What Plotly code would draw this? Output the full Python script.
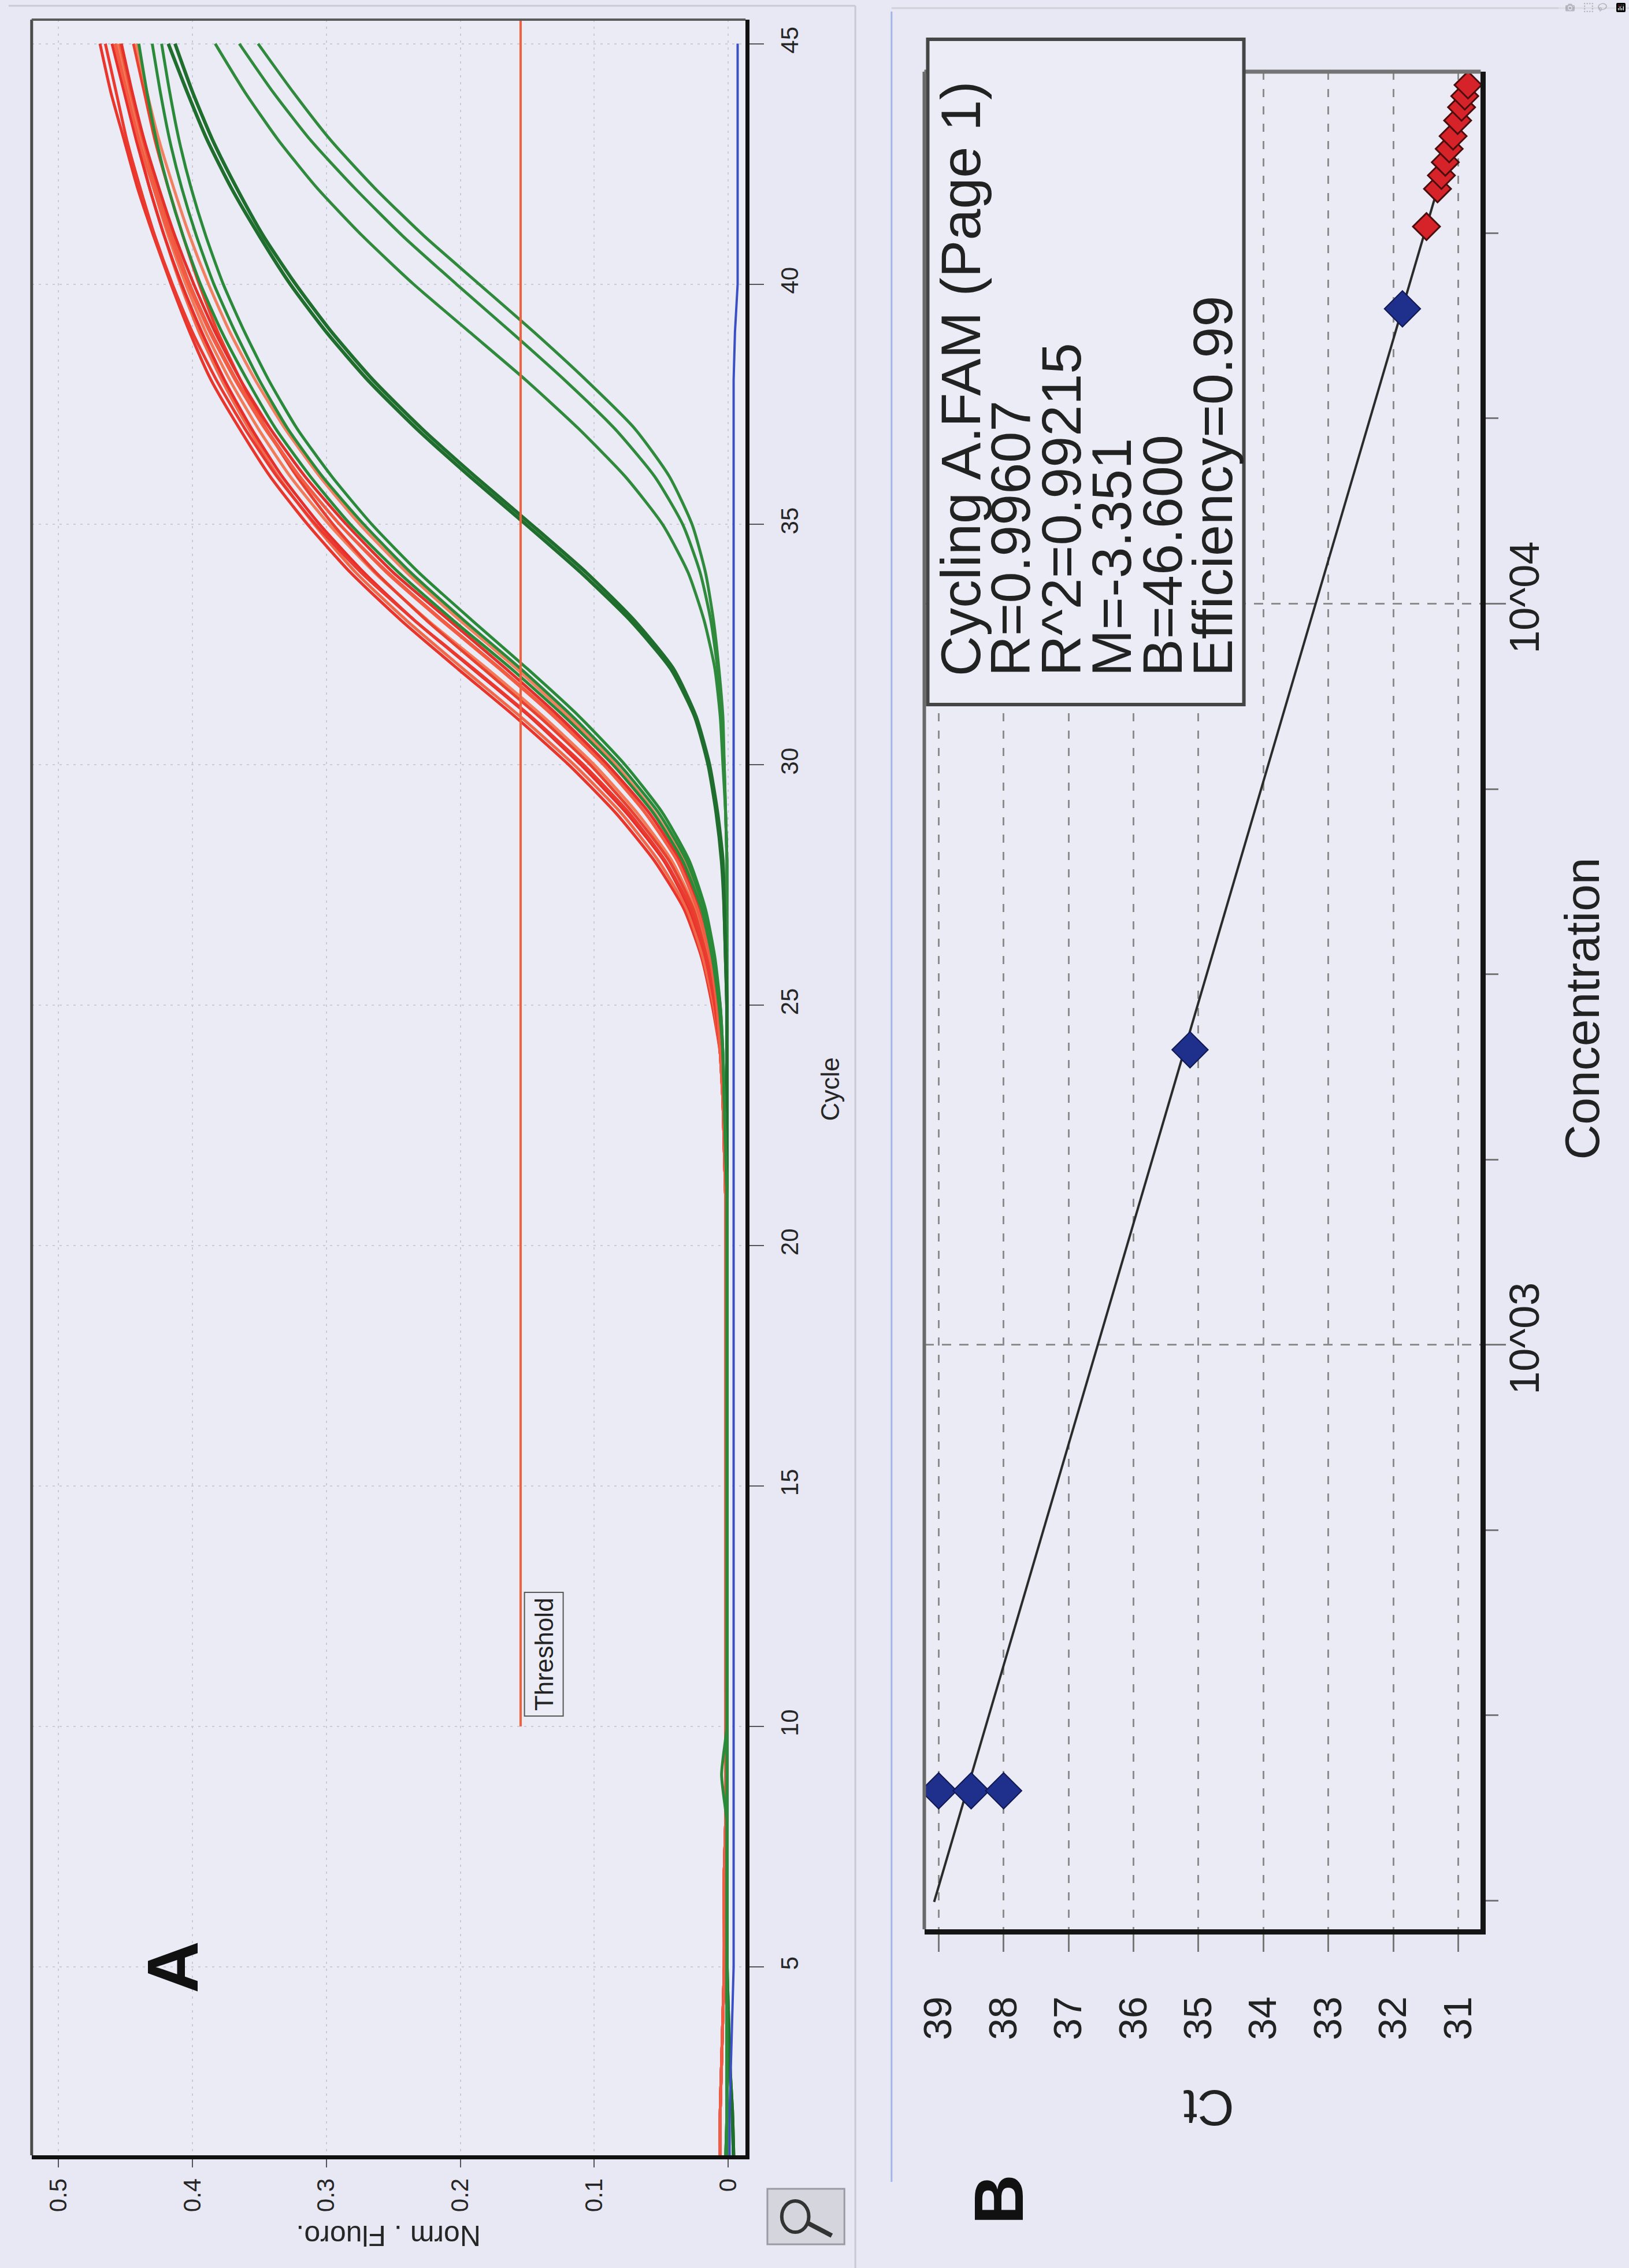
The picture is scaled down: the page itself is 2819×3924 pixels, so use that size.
import plotly.graph_objects as go

W, H = 2819, 3924

# ---------------- Panel A data (Norm. Fluoro. vs Cycle) ----------------
cycles = list(range(1, 46))

red_base = [0.006, 0.006, 0.005, 0.004, 0.003, 0.003, 0.003, 0.002, 0.002, 0.002,
            0.002, 0.002, 0.002, 0.002, 0.002, 0.002, 0.002, 0.002, 0.002, 0.002,
            0.002, 0.003, 0.004, 0.006]  # cycles 1-24

red_1 = red_base + [0.012, 0.020, 0.033, 0.055, 0.084, 0.119, 0.159, 0.202, 0.244, 0.282, 0.314,
                    0.342, 0.365, 0.386, 0.402, 0.416, 0.429, 0.441, 0.451, 0.461, 0.469]
red_2 = red_base + [0.011, 0.019, 0.031, 0.052, 0.080, 0.115, 0.155, 0.198, 0.240, 0.278, 0.309,
                    0.336, 0.358, 0.378, 0.395, 0.409, 0.421, 0.432, 0.441, 0.449, 0.457]
red_3 = red_base + [0.010, 0.017, 0.029, 0.048, 0.076, 0.110, 0.148, 0.191, 0.234, 0.272, 0.305,
                    0.333, 0.356, 0.376, 0.393, 0.408, 0.421, 0.432, 0.442, 0.451, 0.460]
red_4 = red_base + [0.009, 0.015, 0.025, 0.042, 0.068, 0.100, 0.138, 0.180, 0.224, 0.264, 0.298,
                    0.327, 0.351, 0.372, 0.390, 0.405, 0.418, 0.429, 0.439, 0.447, 0.455]
red_5 = red_base + [0.009, 0.016, 0.026, 0.044, 0.071, 0.103, 0.141, 0.183, 0.225, 0.263, 0.295,
                    0.322, 0.345, 0.364, 0.381, 0.395, 0.407, 0.418, 0.428, 0.436, 0.444]
red_6 = red_base + [0.0085, 0.0135, 0.023, 0.038, 0.062, 0.092, 0.129, 0.170, 0.213, 0.254, 0.290,
                    0.320, 0.345, 0.367, 0.386, 0.402, 0.415, 0.427, 0.437, 0.446, 0.454]
red_7 = red_base + [0.008, 0.013, 0.022, 0.036, 0.059, 0.090, 0.126, 0.166, 0.208, 0.250, 0.285,
                    0.316, 0.342, 0.364, 0.383, 0.399, 0.413, 0.425, 0.436, 0.445, 0.453]
red_8 = red_base + [0.0075, 0.012, 0.020, 0.033, 0.055, 0.084, 0.119, 0.158, 0.200, 0.240, 0.275,
                    0.305, 0.331, 0.353, 0.372, 0.388, 0.402, 0.414, 0.425, 0.434, 0.442]
red_9 = red_base + [0.010, 0.017, 0.028, 0.047, 0.074, 0.108, 0.147, 0.190, 0.234, 0.274, 0.308,
                    0.337, 0.361, 0.382, 0.400, 0.415, 0.428, 0.439, 0.449, 0.457, 0.465]
red_10 = red_base + [0.0085, 0.0135, 0.023, 0.038, 0.062, 0.093, 0.130, 0.171, 0.214, 0.255, 0.290,
                     0.320, 0.346, 0.368, 0.387, 0.403, 0.417, 0.429, 0.440, 0.449, 0.458]
red_curves = [red_1, red_2, red_3, red_4, red_5, red_6, red_7, red_8, red_9, red_10]
red_colors = ["#e8362c", "#f0684a", "#e62f2a", "#f27a58", "#e9412f", "#ee5a3e",
              "#e3302b", "#f08060", "#ea3a30", "#f25c44"]

green_base = [0.002, 0.001, 0.001, 0.001, 0.001, 0.001, 0.001, 0.001, 0.001, 0.001,
              0.001, 0.001, 0.001, 0.001, 0.001, 0.001, 0.001, 0.001, 0.001, 0.001,
              0.001, 0.002, 0.003, 0.004]  # cycles 1-24
green_spike_base = [0.002, 0.001, 0.001, 0.001, 0.001, 0.001, 0.001, 0.001, 0.005, 0.001,
                    0.001, 0.001, 0.001, 0.001, 0.001, 0.001, 0.001, 0.001, 0.001, 0.001,
                    0.001, 0.002, 0.003, 0.004]
std_25000_a = green_base + [0.007, 0.012, 0.020, 0.034, 0.056, 0.086, 0.122, 0.162, 0.205, 0.246, 0.282,
                            0.312, 0.338, 0.359, 0.378, 0.394, 0.407, 0.418, 0.427, 0.434, 0.440]
std_25000_b = green_spike_base + [0.006, 0.010, 0.017, 0.029, 0.049, 0.077, 0.111, 0.150, 0.191, 0.231, 0.266,
                                  0.296, 0.322, 0.343, 0.361, 0.377, 0.390, 0.401, 0.410, 0.417, 0.423]
std_25000_c = green_base + [0.006, 0.011, 0.018, 0.031, 0.052, 0.081, 0.116, 0.155, 0.197, 0.237, 0.272,
                            0.303, 0.329, 0.350, 0.368, 0.384, 0.397, 0.408, 0.417, 0.424, 0.430]

late_base = [-0.004, -0.003, -0.001, 0.000, 0.001, 0.001, 0.001, 0.001, 0.001, 0.001,
             0.001, 0.001, 0.001, 0.001, 0.001, 0.001, 0.001, 0.001, 0.001, 0.001,
             0.001, 0.001, 0.001, 0.001, 0.001, 0.002, 0.003]  # cycles 1-27
std_2500_a = late_base + [0.005, 0.009, 0.015, 0.025, 0.043, 0.073, 0.110, 0.151, 0.193,
                          0.233, 0.269, 0.300, 0.327, 0.350, 0.371, 0.389, 0.404, 0.418]
std_2500_b = late_base + [0.004, 0.008, 0.014, 0.024, 0.041, 0.070, 0.106, 0.147, 0.189,
                          0.229, 0.265, 0.296, 0.323, 0.347, 0.367, 0.385, 0.400, 0.413]

very_late_base = [0.001, 0.001, 0.001, 0.001, 0.001, 0.001, 0.001, 0.001, 0.001, 0.001,
                  0.001, 0.001, 0.001, 0.001, 0.001, 0.001, 0.001, 0.001, 0.001, 0.001,
                  0.001, 0.001, 0.001, 0.001, 0.001, 0.001, 0.001, 0.001, 0.002]  # cycles 1-29
std_250_a = very_late_base + [0.004, 0.006, 0.010, 0.018, 0.030, 0.049, 0.077, 0.112, 0.151,
                              0.193, 0.235, 0.273, 0.307, 0.336, 0.361, 0.383]
std_250_b = very_late_base + [0.003, 0.005, 0.008, 0.013, 0.021, 0.034, 0.055, 0.085, 0.122,
                              0.162, 0.203, 0.243, 0.279, 0.312, 0.340, 0.365]
std_250_c = very_late_base + [0.003, 0.004, 0.007, 0.011, 0.017, 0.027, 0.044, 0.070, 0.106,
                              0.145, 0.186, 0.227, 0.264, 0.297, 0.325, 0.351]

ntc_blue = [-0.001, -0.001, -0.002, -0.003, -0.004, -0.004, -0.004, -0.004, -0.004, -0.004,
            -0.004, -0.004, -0.004, -0.004, -0.004, -0.004, -0.004, -0.004, -0.004, -0.004,
            -0.004, -0.004, -0.004, -0.004, -0.004, -0.004, -0.004, -0.004, -0.004, -0.004,
            -0.004, -0.004, -0.004, -0.004, -0.004, -0.004, -0.004, -0.004, -0.005, -0.007,
            -0.007, -0.007, -0.007, -0.007, -0.007]

threshold_value = 0.155
threshold_cycles = [10, 45.5]

fluoro_ticks = [0, 0.1, 0.2, 0.3, 0.4, 0.5]
fluoro_ticktext = ["0", "0.1", "0.2", "0.3", "0.4", "0.5"]
cycle_ticks = [5, 10, 15, 20, 25, 30, 35, 40, 45]

# ---------------- Panel B data (standard curve) ----------------
std_ct = [39.0, 38.5, 38.0, 35.13, 31.86]
std_conc = [250, 250, 250, 2500, 25000]
unk_ct = [31.49, 31.32, 31.26, 31.20, 31.14, 31.08, 31.01, 30.95, 30.90, 30.85]
unk_conc = [32280, 36300, 37840, 39430, 41100, 42760, 44890, 46770, 48420, 50120]
fit_ct = [39.07, 30.85]
fit_conc = [177, 50120]
ct_ticks = [31, 32, 33, 34, 35, 36, 37, 38, 39]
conc_ticks = [1000, 10000]
conc_ticktext = ["10^03", "10^04"]
conc_minor = [177.8, 316.2, 562.3, 1778, 3162, 5623, 17783, 31623]
legend_lines = ["Cycling A.FAM (Page 1)", "R=0.99607", "R^2=0.99215",
                "M=-3.351", "B=46.600", "Efficiency=0.99"]

# ---------------- helpers (pixel -> paper) ----------------
def px(x):
    return x / W

def py(y):
    return 1 - y / H

BG = "#e8e8f4"
NARROW = "Liberation Sans Narrow, Arial Narrow, Liberation Sans, Arial, sans-serif"
SANS = "Liberation Sans, Arial, sans-serif"

fig = go.Figure()

# Panel A traces
for vals in [std_250_a, std_250_b, std_250_c]:
    fig.add_trace(go.Scatter(x=vals, y=cycles, mode="lines", xaxis="x", yaxis="y",
                             line=dict(color="#2f8a3c", width=5, shape="spline", smoothing=0.6),
                             hoverinfo="skip"))
for vals in [std_2500_a, std_2500_b]:
    fig.add_trace(go.Scatter(x=vals, y=cycles, mode="lines", xaxis="x", yaxis="y",
                             line=dict(color="#1f6e2d", width=6, shape="spline", smoothing=0.6),
                             hoverinfo="skip"))
fig.add_trace(go.Scatter(x=ntc_blue, y=cycles, mode="lines", xaxis="x", yaxis="y",
                         line=dict(color="#3a4fc4", width=4), hoverinfo="skip"))
for vals, col in zip(red_curves, red_colors):
    fig.add_trace(go.Scatter(x=vals, y=cycles, mode="lines", xaxis="x", yaxis="y",
                             line=dict(color=col, width=5, shape="spline", smoothing=0.6),
                             hoverinfo="skip"))
for vals in [std_25000_a, std_25000_b, std_25000_c]:
    fig.add_trace(go.Scatter(x=vals, y=cycles, mode="lines", xaxis="x", yaxis="y",
                             line=dict(color="#2a8a3a", width=5, shape="spline", smoothing=0.6),
                             hoverinfo="skip"))
fig.add_trace(go.Scatter(x=[threshold_value, threshold_value], y=threshold_cycles, mode="lines",
                         xaxis="x", yaxis="y", line=dict(color="#f0603c", width=4),
                         hoverinfo="skip"))

# Panel B traces
fig.add_trace(go.Scatter(x=fit_ct, y=fit_conc, mode="lines", xaxis="x2", yaxis="y2",
                         line=dict(color="#2b2b2b", width=4), hoverinfo="skip"))
fig.add_trace(go.Scatter(x=std_ct, y=std_conc, mode="markers", xaxis="x2", yaxis="y2",
                         marker=dict(symbol="diamond", size=48, color="#1f2f8c",
                                     line=dict(color="#0f1850", width=2)),
                         hoverinfo="skip"))
fig.add_trace(go.Scatter(x=unk_ct, y=unk_conc, mode="markers", xaxis="x2", yaxis="y2",
                         marker=dict(symbol="diamond", size=36, color="#d6232a",
                                     line=dict(color="#4a0e0e", width=3)),
                         hoverinfo="skip"))

# ---------------- layout ----------------
tickfontA = dict(family=NARROW, size=42, color="#262626")
tickfontB = dict(family=SANS, size=68, color="#222222")

shapes = [
    # page frame lines
    dict(type="line", xref="paper", yref="paper", x0=px(0), x1=px(1473), y0=py(10), y1=py(10),
         line=dict(color="#c9c9d2", width=3)),
    dict(type="line", xref="paper", yref="paper", x0=px(1473), x1=px(1473), y0=py(10), y1=py(3924),
         line=dict(color="#c9c9d2", width=3)),
    dict(type="line", xref="paper", yref="paper", x0=px(1536), x1=px(2819), y0=py(14), y1=py(14),
         line=dict(color="#cfcfd8", width=3)),
    dict(type="line", xref="paper", yref="paper", x0=px(1536), x1=px(1536), y0=py(20), y1=py(3775),
         line=dict(color="#a4b4e8", width=3)),
    # panel A gray top/left borders
    dict(type="line", xref="x domain", yref="y domain", x0=0, x1=0, y0=0, y1=1,
         line=dict(color="#4a4a4a", width=5)),
    dict(type="line", xref="x domain", yref="y domain", x0=0, x1=1, y0=1, y1=1,
         line=dict(color="#5a5a5a", width=4)),
    # panel B gray top/left borders
    dict(type="line", xref="x2 domain", yref="y2 domain", x0=0, x1=0, y0=0, y1=1,
         line=dict(color="#6a6a6a", width=6)),
    dict(type="line", xref="x2 domain", yref="y2 domain", x0=0, x1=1, y0=1, y1=1,
         line=dict(color="#747474", width=7)),
    # legend box of panel B
    dict(type="rect", xref="paper", yref="paper", x0=px(1599), x1=px(2149), y0=py(1219), y1=py(68),
         fillcolor="#ececf6", line=dict(color="#454545", width=6), layer="above"),
    # small toolbar icon
    dict(type="rect", xref="paper", yref="paper", x0=px(1320), x1=px(1454), y0=py(3883), y1=py(3787),
         fillcolor="#d5d5de", line=dict(color="#9a9aa3", width=3)),
    dict(type="circle", xref="paper", yref="paper", x0=px(1345), x1=px(1392), y0=py(3862), y1=py(3808),
         line=dict(color="#333333", width=6)),
    dict(type="line", xref="paper", yref="paper", x0=px(1388), x1=px(1432), y0=py(3845), y1=py(3868),
         line=dict(color="#333333", width=8)),
]

def ann(text, x, y, angle, font, **kw):
    d = dict(text=text, x=px(x), y=py(y), xref="paper", yref="paper", showarrow=False,
             textangle=angle, xanchor="center", yanchor="middle", font=font)
    d.update(kw)
    return d

annotations = [
    ann("<b>A</b>", 285, 3403, -90, dict(family=SANS, size=125, color="#111111")),
    ann("<b>B</b>", 1722, 3805, -90, dict(family=SANS, size=120, color="#111111")),
    ann("Norm . Fluoro.", 660, 3868, 180, dict(family=SANS, size=50, color="#262626")),
    ann("Cycle", 1430, 1884, -90, dict(family=NARROW, size=44, color="#262626")),
    ann("Ct", 2088, 3648, 180, dict(family=SANS, size=88, color="#222222")),
    ann("Concentration", 2738, 1745, -90, dict(family=SANS, size=84, color="#222222")),
    dict(text="Threshold", x=0.1378, y=11.5, xref="x", yref="y", showarrow=False,
         textangle=-90, font=dict(family=NARROW, size=44, color="#222222"),
         bordercolor="#555555", borderwidth=2, borderpad=8, bgcolor="#ececf6"),
]
line_x = [1656, 1743, 1831, 1919, 2007, 2095]
for txt, lx in zip(legend_lines, line_x):
    annotations.append(dict(text=txt, x=px(lx), y=py(1172), xref="paper", yref="paper",
                            showarrow=False, textangle=-90, xanchor="center", yanchor="bottom",
                            font=dict(family=SANS, size=97, color="#222222")))

fig.update_layout(
    width=W, height=H, autosize=False,
    margin=dict(l=0, r=0, t=0, b=0, pad=0),
    paper_bgcolor=BG, plot_bgcolor="#ebebf6",
    showlegend=False,
    xaxis=dict(domain=[px(40), px(1282)], range=[0.520, -0.0129], anchor="y",
               tickvals=fluoro_ticks, ticktext=fluoro_ticktext, tickangle=-90,
               tickfont=tickfontA, ticks="outside", ticklen=14, tickwidth=2, tickcolor="#555",
               ticklabelstandoff=2,
               showline=True, linecolor="#111111", linewidth=7,
               showgrid=True, gridcolor="#c9cbd8", gridwidth=2, griddash="4px,8px",
               zeroline=False, fixedrange=True),
    yaxis=dict(domain=[py(3729), py(34)], range=[1.08, 45.5], anchor="x", side="right",
               tickvals=cycle_ticks, tickangle=-90, tickfont=tickfontA,
               ticks="outside", ticklen=25, tickwidth=2, tickcolor="#555",
               ticklabelstandoff=8,
               showline=True, linecolor="#111111", linewidth=7,
               showgrid=True, gridcolor="#c9cbd8", gridwidth=2, griddash="4px,8px",
               zeroline=False, fixedrange=True),
    xaxis2=dict(domain=[px(1593), px(2561)], range=[39.221, 30.655], anchor="y2",
                tickvals=ct_ticks, tickangle=-90, tickfont=tickfontB,
                ticks="outside", ticklen=30, tickwidth=3, tickcolor="#777",
                ticklabelstandoff=50,
                showline=True, linecolor="#151515", linewidth=9,
                showgrid=True, gridcolor="#8c8c8c", gridwidth=3, griddash="14px,16px",
                zeroline=False, fixedrange=True),
    yaxis2=dict(domain=[py(3338), py(124)], type="log", range=[2.211, 4.718], anchor="x2",
                side="right", tickvals=conc_ticks, ticktext=conc_ticktext, tickangle=-90,
                tickfont=dict(family=SANS, size=72, color="#222222"),
                ticks="outside", ticklen=35, tickwidth=3, tickcolor="#777",
                ticklabelstandoff=-30,
                showline=True, linecolor="#151515", linewidth=9,
                showgrid=True, gridcolor="#8c8c8c", gridwidth=3, griddash="16px,14px",
                minor=dict(tickvals=conc_minor, ticks="outside", ticklen=22, tickwidth=3,
                           tickcolor="#777", showgrid=False),
                zeroline=False, fixedrange=True),
    shapes=shapes,
    annotations=annotations,
)

fig.write_html("out.html", post_script="document.body.style.margin='0px';")
